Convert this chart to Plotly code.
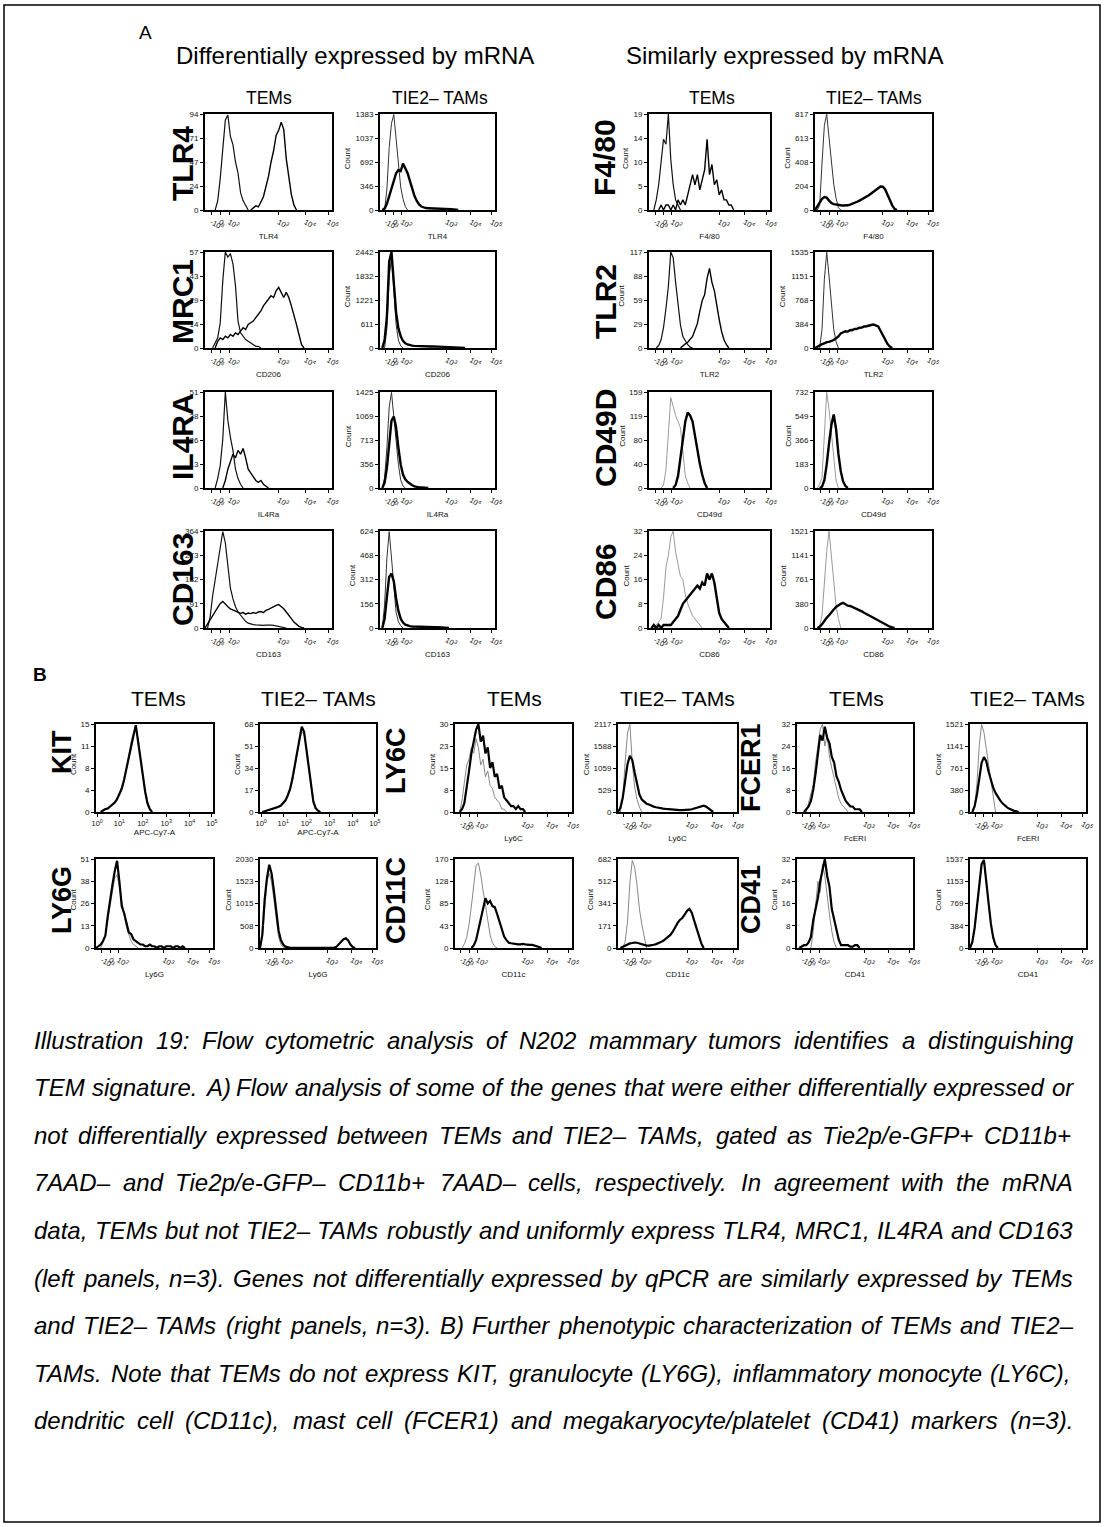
import plotly.graph_objects as go

FIG_W, FIG_H = 1106, 1527
FONT = "Liberation Sans, Arial, sans-serif"
BIN_STEP = 2  # display units per histogram bin (axis runs 0..100)

# ---------------- x-axis tick definitions ----------------
BIEXP_TICKS = [5, 12, 19, 58, 79, 97]
BIEXP_LABELS = ['-10<sup>3</sup>', '0', '10<sup>2</sup>', '10<sup>3</sup>', '10<sup>4</sup>', '10<sup>5</sup>']
LOG_TICKS = [1, 20, 40, 60, 80, 99]
LOG_LABELS = ['10<sup>0</sup>', '10<sup>1</sup>', '10<sup>2</sup>', '10<sup>3</sup>', '10<sup>4</sup>', '10<sup>5</sup>']

# ---------------- y tick labels (0, 1/4, 1/2, 3/4, max) ----------------
Y_TLR4_TEM = ['0', '24', '47', '71', '94']
Y_TLR4_TAM = ['0', '346', '692', '1037', '1383']
Y_MRC1_TEM = ['0', '14', '29', '43', '57']
Y_MRC1_TAM = ['0', '611', '1221', '1832', '2442']
Y_IL4RA_TEM = ['0', '13', '26', '38', '51']
Y_IL4RA_TAM = ['0', '356', '713', '1069', '1425']
Y_CD163_TEM = ['0', '91', '182', '273', '364']
Y_CD163_TAM = ['0', '156', '312', '468', '624']
Y_F480_TEM = ['0', '5', '10', '14', '19']
Y_F480_TAM = ['0', '204', '408', '613', '817']
Y_TLR2_TEM = ['0', '29', '59', '88', '117']
Y_TLR2_TAM = ['0', '384', '768', '1151', '1535']
Y_CD49D_TEM = ['0', '40', '80', '119', '159']
Y_CD49D_TAM = ['0', '183', '366', '549', '732']
Y_CD86_TEM = ['0', '8', '16', '24', '32']
Y_CD86_TAM = ['0', '380', '761', '1141', '1521']
Y_KIT_TEM = ['0', '4', '8', '11', '15']
Y_KIT_TAM = ['0', '17', '34', '51', '68']
Y_LY6C_TEM = ['0', '8', '15', '23', '30']
Y_LY6C_TAM = ['0', '529', '1059', '1588', '2117']
Y_FCER1_TEM = ['0', '8', '16', '24', '32']
Y_FCER1_TAM = ['0', '380', '761', '1141', '1521']
Y_LY6G_TEM = ['0', '13', '26', '38', '51']
Y_LY6G_TAM = ['0', '508', '1015', '1523', '2030']
Y_CD11C_TEM = ['0', '43', '85', '128', '170']
Y_CD11C_TAM = ['0', '171', '341', '512', '682']
Y_CD41_TEM = ['0', '8', '16', '24', '32']
Y_CD41_TAM = ['0', '384', '769', '1153', '1537']

# ---------------- histogram curves: (first bin, counts per bin) ----------------
TLR4_TEM_ISO = (8, [0, 9, 31, 56, 88, 93, 72, 64, 47, 36, 17, 9, 4, 0])
TLR4_TEM_STAIN = (36, [0, 2, 4, 3, 8, 13, 23, 33, 47, 58, 73, 78, 86, 79, 50, 31, 15, 5, 0])
TLR4_TAM_ISO = (4, [0, 300, 900, 1250, 1375, 1000, 620, 330, 160, 50, 0])
TLR4_TAM_STAIN = (2, [0, 20, 90, 200, 330, 440, 530, 575, 560, 670, 600, 530, 420, 300, 200, 130, 80, 50,
                      35, 28, 26, 25, 24, 22, 24, 26, 24, 22, 18, 15, 11, 8, 4, 0])
MRC1_TEM_ISO = (6, [0, 3, 6, 15, 40, 57, 54, 56, 50, 37, 16, 9, 7, 5, 4, 3, 2, 1, 1, 0])
MRC1_TEM_STAIN = (8, [0, 4, 6, 5, 7, 6, 8, 7, 9, 8, 10, 12, 11, 14, 15, 16, 18, 20, 22, 25, 27, 29, 31, 30,
                      34, 36, 33, 30, 33, 30, 25, 20, 14, 8, 2, 0])
MRC1_TAM_ISO = (4, [0, 500, 1800, 2300, 1500, 600, 200, 50, 0])
MRC1_TAM_STAIN = (2, [0, 200, 800, 2200, 2440, 1600, 900, 500, 300, 180, 120, 90, 70, 60, 55, 50, 45, 42,
                      40, 40, 38, 40, 42, 40, 38, 35, 32, 30, 28, 25, 20, 15, 12, 8, 5, 2, 0])
IL4RA_TEM_ISO = (8, [0, 5, 12, 26, 51, 36, 27, 20, 10, 5, 2, 0])
IL4RA_TEM_STAIN = (14, [0, 4, 10, 14, 18, 16, 20, 18, 21, 16, 10, 8, 6, 4, 3, 4, 2, 1, 0])
IL4RA_TAM_ISO = (2, [0, 150, 600, 1200, 1420, 1100, 700, 350, 120, 30, 0])
IL4RA_TAM_STAIN = (2, [0, 80, 300, 700, 1000, 1060, 900, 600, 350, 200, 130, 90, 60, 40, 25, 15, 10, 8, 5, 3, 0])
CD163_TEM_ISO = (2, [0, 40, 120, 180, 240, 290, 362, 320, 230, 150, 110, 80, 60, 48, 35, 25, 18, 14, 13,
                     12, 11, 10, 10, 11, 12, 11, 10, 8, 6, 5, 3, 0])
CD163_TEM_STAIN = (0, [0, 15, 35, 50, 65, 80, 92, 100, 88, 80, 72, 68, 62, 60, 55, 58, 52, 56, 54, 58, 55,
                       60, 62, 58, 66, 70, 75, 82, 85, 88, 80, 72, 60, 45, 35, 22, 14, 6, 2, 0])
CD163_TAM_ISO = (2, [0, 150, 450, 620, 450, 250, 100, 40, 15, 0])
CD163_TAM_STAIN = (2, [0, 60, 200, 330, 350, 300, 190, 110, 60, 35, 22, 15, 12, 10, 9, 8, 8, 8, 8, 7, 7, 6,
                       6, 5, 5, 4, 3, 2, 2, 0])
F480_TEM_ISO = (4, [0, 2, 5, 9, 14, 13, 19, 10, 5, 2, 1, 0])
F480_TEM_STAIN = (8, [0, 1, 0, 1, 1, 0, 1, 0, 2, 1, 2, 1, 3, 5, 7, 5, 7, 4, 6, 8, 14, 7, 9, 5, 6, 3, 4, 2,
                      2, 1, 1, 0])
F480_TAM_ISO = (2, [0, 40, 400, 720, 815, 620, 380, 220, 100, 20, 0])
F480_TAM_STAIN = (0, [0, 30, 70, 95, 110, 105, 80, 60, 50, 45, 42, 40, 38, 38, 40, 45, 52, 60, 70, 80, 90,
                      100, 110, 125, 140, 155, 170, 190, 200, 198, 175, 130, 80, 40, 10, 0])
TLR2_TEM_ISO = (6, [0, 3, 10, 25, 48, 75, 117, 110, 80, 50, 28, 14, 8, 4, 1, 0])
TLR2_TEM_STAIN = (26, [0, 3, 5, 7, 10, 14, 22, 30, 45, 58, 65, 85, 97, 80, 70, 50, 35, 20, 10, 4, 0])
TLR2_TAM_ISO = (4, [0, 300, 1100, 1530, 1150, 650, 300, 100, 0])
TLR2_TAM_STAIN = (0, [0, 25, 38, 62, 72, 93, 98, 112, 128, 155, 186, 234, 246, 268, 262, 284, 288, 304,
                      306, 324, 326, 344, 348, 362, 368, 376, 362, 344, 276, 204, 118, 62, 22, 0])
CD49D_TEM_ISO = (10, [0, 5, 30, 84, 150, 135, 120, 110, 100, 60, 20, 8, 0])
CD49D_TEM_STAIN = (20, [0, 5, 20, 50, 85, 110, 125, 120, 110, 85, 60, 40, 22, 8, 0])
CD49D_TAM_ISO = (2, [0, 30, 80, 450, 730, 600, 420, 200, 60, 0])
CD49D_TAM_STAIN = (4, [0, 10, 60, 180, 340, 480, 560, 450, 260, 130, 50, 15, 0])
CD86_TEM_ISO = (4, [0, 1, 2, 3, 10, 20, 24, 30, 32, 25, 21, 17, 16, 11, 8, 6, 4, 3, 2, 1, 0])
CD86_TEM_STAIN = (2, [0, 1, 0, 1, 0, 1, 1, 1, 1, 2, 3, 4, 6, 8, 9, 10, 11, 12, 13, 14, 13, 15, 14, 18, 16,
                      18, 15, 10, 5, 3, 2, 1, 0])
CD86_TAM_ISO = (2, [0, 30, 200, 700, 1200, 1520, 1150, 700, 350, 150, 0])
CD86_TAM_STAIN = (2, [0, 20, 60, 120, 160, 200, 250, 290, 330, 360, 380, 395, 370, 350, 345, 330, 315, 300,
                      280, 262, 240, 220, 198, 178, 158, 136, 115, 95, 75, 55, 38, 20, 8, 0])

KIT_TEM_ISO = (4, [0, 0.2, 0.4, 0.6, 0.8, 1.1, 1.5, 2.0, 2.8, 3.8, 5.2, 7.2, 9.8, 12, 13.5, 14.2, 12.5, 9.5,
                   6.2, 3.2, 1.2, 0.4, 0])
KIT_TEM_STAIN = (4, [0, 0.3, 0.5, 0.6, 0.9, 1.2, 1.6, 2.2, 3, 4, 5.5, 7.5, 9.5, 11.5, 13, 14.8, 12, 9, 6,
                     3.5, 1.5, 0.5, 0])
KIT_TAM_ISO = (2, [0, 0.4, 0.8, 1.2, 1.8, 2.2, 2.8, 3.6, 4.8, 6.5, 8.5, 12, 17, 24, 34, 45, 55, 62, 60, 50,
                   34, 20, 9, 3, 1, 0])
KIT_TAM_STAIN = (2, [0, 0.5, 1, 1.5, 2, 2.5, 3, 4, 5, 7, 9, 13, 18, 26, 36, 48, 58, 66, 62, 48, 32, 18, 8,
                     3, 1, 0])
LY6C_TEM_ISO = (4, [0, 4, 10, 16, 18, 22, 20, 25, 22, 16, 18, 12, 14, 9, 8, 5, 4, 3, 1, 1, 0])
LY6C_TEM_STAIN = (4, [0, 1, 3, 8, 14, 20, 24, 28, 30, 24, 26, 20, 22, 15, 17, 12, 13, 8, 9, 5, 4, 3, 2, 2,
                      1, 2, 1, 1, 0])
LY6C_TAM_ISO = (2, [0, 300, 1200, 1900, 2110, 1200, 600, 300, 120, 0])
LY6C_TAM_STAIN = (0, [0, 100, 350, 700, 1150, 1350, 1250, 950, 650, 420, 300, 240, 200, 180, 150, 130, 115,
                      100, 90, 82, 75, 68, 60, 55, 50, 48, 45, 45, 45, 50, 55, 65, 80, 95, 110, 140, 150,
                      130, 90, 40, 0])
FCER1_TEM_ISO = (8, [0, 3, 6, 10, 18, 24, 30, 32, 24, 28, 20, 16, 12, 8, 5, 3, 2, 1, 0])
FCER1_TEM_STAIN = (6, [0, 1, 2, 4, 8, 14, 22, 28, 26, 31, 27, 25, 20, 18, 13, 11, 8, 6, 4, 3, 2, 2, 1, 1,
                       1, 0])
FCER1_TAM_ISO = (2, [0, 100, 500, 1150, 1515, 1380, 1100, 830, 500, 207, 0])
FCER1_TAM_STAIN = (2, [0, 100, 300, 600, 850, 950, 880, 700, 550, 420, 330, 260, 200, 150, 110, 80, 55, 35,
                       20, 10, 0])
LY6G_TEM_ISO = (4, [0, 3, 8, 16, 26, 34, 40, 42, 34, 28, 18, 12, 8, 4, 2, 1, 0])
LY6G_TEM_STAIN = (0, [0, 1, 2, 4, 7, 18, 28, 36, 44, 50, 38, 24, 20, 15, 9, 8, 5, 4, 3, 2, 2, 1, 1, 2, 1,
                      1, 0, 1, 1, 0, 1, 1, 1, 0, 1, 1, 0, 1, 0])
LY6G_TAM_ISO = (0, [0, 250, 900, 1500, 1700, 1500, 1100, 600, 250, 80, 20, 0])
LY6G_TAM_STAIN = (0, [0, 300, 1100, 1600, 1900, 1700, 1300, 800, 400, 180, 80, 30, 10, 5, 4, 3, 3, 2, 2,
                      2, 2, 2, 2, 2, 2, 2, 2, 3, 3, 3, 4, 6, 10, 30, 80, 150, 200, 220, 170, 80, 20, 0])
CD11C_TEM_ISO = (6, [0, 8, 20, 45, 80, 120, 158, 162, 140, 110, 80, 50, 25, 10, 3, 0])
CD11C_TEM_STAIN = (14, [0, 5, 15, 35, 60, 80, 95, 85, 90, 80, 78, 65, 50, 35, 22, 15, 10, 9, 8, 8, 7, 7,
                        8, 7, 6, 6, 6, 5, 4, 2, 0])
CD11C_TAM_ISO = (4, [0, 50, 200, 500, 670, 620, 480, 300, 180, 80, 0])
CD11C_TAM_STAIN = (2, [0, 10, 20, 30, 35, 38, 42, 40, 35, 30, 22, 18, 18, 20, 25, 30, 36, 45, 55, 70, 85,
                       100, 125, 160, 190, 215, 230, 255, 285, 300, 270, 210, 150, 90, 35, 0])
CD41_TEM_ISO = (12, [0, 6, 15, 24, 20, 30, 26, 18, 12, 6, 2, 0])
CD41_TEM_STAIN = (2, [0, 0.5, 1, 1, 2, 4, 10, 14, 18, 24, 28, 32, 26, 22, 14, 10, 6, 3, 1, 1, 1, 1, 0.5,
                      0.5, 1, 1, 0])
CD41_TAM_ISO = (0, [0, 90, 330, 720, 1080, 1420, 1500, 1180, 760, 400, 170, 45, 0])
CD41_TAM_STAIN = (0, [0, 100, 350, 750, 1100, 1450, 1520, 1200, 780, 420, 180, 50, 0])

# ---------------- caption ----------------
CAPTION_LINES = [
    "Illustration 19: Flow cytometric analysis of N202 mammary tumors identifies a distinguishing",
    "TEM signature. A) Flow analysis of some of the genes that were either differentially expressed or",
    "not differentially expressed between TEMs and TIE2\u2013 TAMs, gated as Tie2p/e-GFP+ CD11b+",
    "7AAD\u2013 and Tie2p/e-GFP\u2013 CD11b+ 7AAD\u2013 cells, respectively. In agreement with the mRNA",
    "data, TEMs but not TIE2\u2013 TAMs robustly and uniformly express TLR4, MRC1, IL4RA and CD163",
    "(left panels, n=3). Genes not differentially expressed by qPCR are similarly expressed by TEMs",
    "and TIE2\u2013 TAMs (right panels, n=3). B) Further phenotypic characterization of TEMs and TIE2\u2013",
    "TAMs. Note that TEMs do not express KIT, granulocyte (LY6G), inflammatory monocyte (LY6C),",
    "dendritic cell (CD11c), mast cell (FCER1) and megakaryocyte/platelet (CD41) markers (n=3).",
]

# ---------------- layout geometry (pixels) ----------------
A_X = [(205, 332), (380, 495), (649, 770), (815, 932)]
A_Y = [(114, 210), (252, 348), (392, 488), (531, 628)]
B_X = [(96, 213), (260, 376), (455, 572), (618, 737), (797, 913), (970, 1086)]
B_Y = [(724, 812), (859, 948)]

STYLES = {
    'temA': (dict(color='#111', width=1.2), dict(color='#000', width=1.4)),
    'tamA': (dict(color='#333', width=1.0), dict(color='#000', width=2.4)),
    'gray': (dict(color='#9a9a9a', width=1.0), dict(color='#000', width=2.4)),
    'B': (dict(color='#888', width=1.0), dict(color='#000', width=2.2)),
}

PANELS = [
    ('A', 0, 0, 'TLR4', Y_TLR4_TEM, TLR4_TEM_ISO, TLR4_TEM_STAIN, 'temA', False, 'bi'),
    ('A', 1, 0, 'TLR4', Y_TLR4_TAM, TLR4_TAM_ISO, TLR4_TAM_STAIN, 'tamA', True, 'bi'),
    ('A', 0, 1, 'CD206', Y_MRC1_TEM, MRC1_TEM_ISO, MRC1_TEM_STAIN, 'temA', False, 'bi'),
    ('A', 1, 1, 'CD206', Y_MRC1_TAM, MRC1_TAM_ISO, MRC1_TAM_STAIN, 'tamA', True, 'bi'),
    ('A', 0, 2, 'IL4Ra', Y_IL4RA_TEM, IL4RA_TEM_ISO, IL4RA_TEM_STAIN, 'temA', False, 'bi'),
    ('A', 1, 2, 'IL4Ra', Y_IL4RA_TAM, IL4RA_TAM_ISO, IL4RA_TAM_STAIN, 'tamA', True, 'bi'),
    ('A', 0, 3, 'CD163', Y_CD163_TEM, CD163_TEM_ISO, CD163_TEM_STAIN, 'temA', False, 'bi'),
    ('A', 1, 3, 'CD163', Y_CD163_TAM, CD163_TAM_ISO, CD163_TAM_STAIN, 'tamA', True, 'bi'),
    ('A', 2, 0, 'F4/80', Y_F480_TEM, F480_TEM_ISO, F480_TEM_STAIN, 'temA', True, 'bi'),
    ('A', 3, 0, 'F4/80', Y_F480_TAM, F480_TAM_ISO, F480_TAM_STAIN, 'tamA', True, 'bi'),
    ('A', 2, 1, 'TLR2', Y_TLR2_TEM, TLR2_TEM_ISO, TLR2_TEM_STAIN, 'temA', True, 'bi'),
    ('A', 3, 1, 'TLR2', Y_TLR2_TAM, TLR2_TAM_ISO, TLR2_TAM_STAIN, 'tamA', True, 'bi'),
    ('A', 2, 2, 'CD49d', Y_CD49D_TEM, CD49D_TEM_ISO, CD49D_TEM_STAIN, 'gray', True, 'bi'),
    ('A', 3, 2, 'CD49d', Y_CD49D_TAM, CD49D_TAM_ISO, CD49D_TAM_STAIN, 'gray', True, 'bi'),
    ('A', 2, 3, 'CD86', Y_CD86_TEM, CD86_TEM_ISO, CD86_TEM_STAIN, 'gray', True, 'bi'),
    ('A', 3, 3, 'CD86', Y_CD86_TAM, CD86_TAM_ISO, CD86_TAM_STAIN, 'gray', True, 'bi'),
    ('B', 0, 0, 'APC-Cy7-A', Y_KIT_TEM, KIT_TEM_ISO, KIT_TEM_STAIN, 'B', True, 'log'),
    ('B', 1, 0, 'APC-Cy7-A', Y_KIT_TAM, KIT_TAM_ISO, KIT_TAM_STAIN, 'B', True, 'log'),
    ('B', 2, 0, 'Ly6C', Y_LY6C_TEM, LY6C_TEM_ISO, LY6C_TEM_STAIN, 'B', True, 'bi'),
    ('B', 3, 0, 'Ly6C', Y_LY6C_TAM, LY6C_TAM_ISO, LY6C_TAM_STAIN, 'B', True, 'bi'),
    ('B', 4, 0, 'FcERI', Y_FCER1_TEM, FCER1_TEM_ISO, FCER1_TEM_STAIN, 'B', True, 'bi'),
    ('B', 5, 0, 'FcERI', Y_FCER1_TAM, FCER1_TAM_ISO, FCER1_TAM_STAIN, 'B', True, 'bi'),
    ('B', 0, 1, 'Ly6G', Y_LY6G_TEM, LY6G_TEM_ISO, LY6G_TEM_STAIN, 'B', True, 'bi'),
    ('B', 1, 1, 'Ly6G', Y_LY6G_TAM, LY6G_TAM_ISO, LY6G_TAM_STAIN, 'B', True, 'bi'),
    ('B', 2, 1, 'CD11c', Y_CD11C_TEM, CD11C_TEM_ISO, CD11C_TEM_STAIN, 'B', True, 'bi'),
    ('B', 3, 1, 'CD11c', Y_CD11C_TAM, CD11C_TAM_ISO, CD11C_TAM_STAIN, 'B', True, 'bi'),
    ('B', 4, 1, 'CD41', Y_CD41_TEM, CD41_TEM_ISO, CD41_TEM_STAIN, 'B', True, 'bi'),
    ('B', 5, 1, 'CD41', Y_CD41_TAM, CD41_TAM_ISO, CD41_TAM_STAIN, 'B', True, 'bi'),
]


def px(x):
    return x / FIG_W


def py(y):
    return 1 - y / FIG_H


traces = []
ann = []
layout = dict(width=FIG_W, height=FIG_H, margin=dict(l=0, r=0, t=0, b=0), autosize=False,
              paper_bgcolor='white', plot_bgcolor='white', showlegend=False,
              font=dict(family=FONT, color='#111'))

SMALL = dict(size=8, family=FONT, color='#111')


def text(t, x, y, size, angle=0, xanchor='center', yanchor='middle', color='#000'):
    ann.append(dict(text=t, x=px(x), y=py(y), xref='paper', yref='paper', showarrow=False,
                    xanchor=xanchor, yanchor=yanchor, textangle=angle, borderpad=0,
                    font=dict(family=FONT, size=size, color=color)))


for k, (grid, col, row, xlabel, ylab, iso, stain, style, count, xt) in enumerate(PANELS, start=1):
    (x0, x1) = (A_X if grid == 'A' else B_X)[col]
    (y0, y1) = (A_Y if grid == 'A' else B_Y)[row]
    ymax = float(ylab[-1])
    xs = 'x' if k == 1 else f'x{k}'
    ys = 'y' if k == 1 else f'y{k}'
    xa = 'xaxis' if k == 1 else f'xaxis{k}'
    ya = 'yaxis' if k == 1 else f'yaxis{k}'
    common = dict(showline=True, mirror=True, linecolor='black', linewidth=2, ticks='outside',
                  ticklen=3, tickwidth=1, tickcolor='black', showgrid=False, zeroline=False,
                  automargin=False)
    layout[xa] = dict(domain=[px(x0), px(x1)], range=[0, 100], anchor=ys,
                      tickmode='array',
                      tickvals=BIEXP_TICKS if xt == 'bi' else LOG_TICKS,
                      ticktext=BIEXP_LABELS if xt == 'bi' else LOG_LABELS,
                      tickfont=dict(size=7.5, family=FONT, color='#111'),
                      title=dict(text=xlabel, font=dict(size=8, family=FONT, color='#111'), standoff=2),
                      **common)
    layout[ya] = dict(domain=[py(y1), py(y0)], range=[0, ymax], anchor=xs, tickfont=SMALL,
                      tickmode='array', tickvals=[ymax * i / 4 for i in range(5)], ticktext=ylab, **common)
    if count:
        label_w = max(len(s) for s in ylab) * 0.556 * 8
        text('Count', x0 - 9 - label_w - 5, (y0 + y1) / 2 - 4, 8, angle=-90, color='#111')
    iso_style, stain_style = STYLES[style]
    for (start, vals), ls in ((iso, iso_style), (stain, stain_style)):
        traces.append(go.Scatter(x=[start + BIN_STEP * i for i in range(len(vals))], y=vals,
                                 mode='lines', line=dict(shape='linear', **ls),
                                 xaxis=xs, yaxis=ys, hoverinfo='skip', showlegend=False))

# Panel A headings
text('A', 145, 33, 19)
text('Differentially expressed by mRNA', 355, 55, 24)
text('Similarly expressed by mRNA', 784, 55, 24)
for t, x in (('TEMs', 269), ('TIE2\u2013 TAMs', 440), ('TEMs', 712), ('TIE2\u2013 TAMs', 874)):
    text(t, x, 98, 17.5)
for t, x, y in (('TLR4', 182, 164), ('MRC1', 182, 302), ('IL4RA', 182, 437), ('CD163', 182, 580),
                ('F4/80', 605, 158), ('TLR2', 605, 302), ('CD49D', 605, 438), ('CD86', 605, 582)):
    text('<b>' + t + '</b>', x, y, 30, angle=-90)

# Panel B headings
text('<b>B</b>', 40, 675, 19)
for t, x in (('TEMs', 158), ('TIE2\u2013 TAMs', 318), ('TEMs', 514), ('TIE2\u2013 TAMs', 677),
             ('TEMs', 856), ('TIE2\u2013 TAMs', 1027)):
    text(t, x, 698, 21)
for t, x, y in (('KIT', 62, 752), ('LY6C', 396, 760), ('FCER1', 751, 768),
                ('LY6G', 62, 900), ('CD11C', 396, 900), ('CD41', 751, 900)):
    text('<b>' + t + '</b>', x, y, 27, angle=-90)

# Caption, justified word by word using Arial/Liberation advance widths
AW = {}
for chars, w in (('ijl', 222), ("ftI.,:;/ '", 278), ('r()-', 333), ('cksvxyzJ', 500),
                 ('abdeghnopqu0123456789L\u2013', 556), ('+=', 584), ('FTZ', 611),
                 ('ABEKPSVXY', 667), ('CDHNRUw', 722), ('GOQ', 778), ('mM', 833), ('W', 944)):
    for c in chars:
        AW[c] = w

CAP_SIZE = 24
CAP_LEFT, CAP_RIGHT = 34, 1073
CAP_Y0, CAP_DY = 1040, 47.6


def tw(s):
    return sum(AW.get(c, 556) for c in s) * CAP_SIZE / 1000.0


for i, line in enumerate(CAPTION_LINES):
    words = line.split(' ')
    widths = [tw(w) for w in words]
    gap = max((CAP_RIGHT - CAP_LEFT - sum(widths)) / (len(words) - 1), 0.2 * CAP_SIZE)
    x = CAP_LEFT
    y = CAP_Y0 + i * CAP_DY
    for w, wd in zip(words, widths):
        ann.append(dict(text='<i>' + w + '</i>', x=px(x), y=py(y), xref='paper', yref='paper',
                        showarrow=False, xanchor='left', yanchor='middle', borderpad=0, borderwidth=0,
                        font=dict(family=FONT, size=CAP_SIZE, color='#000')))
        x += wd + gap

layout['annotations'] = ann
layout['shapes'] = [dict(type='rect', xref='paper', yref='paper', x0=px(4), x1=px(1100), y0=py(1522), y1=py(5),
                         line=dict(color='black', width=1.5))]

fig = go.Figure(data=traces, layout=layout)
fig.write_html("out.html", config={'displayModeBar': False},
               post_script="document.body.style.margin='0px';document.body.style.padding='0px';")
